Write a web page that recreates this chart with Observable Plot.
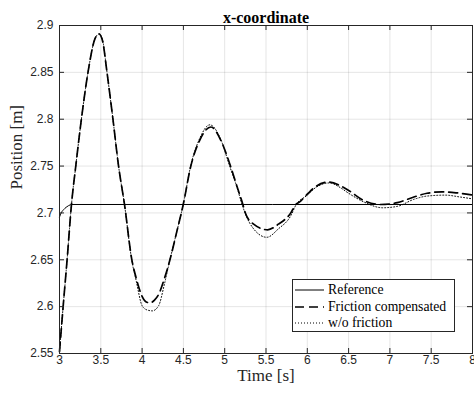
<!DOCTYPE html>
<html><head><meta charset="utf-8">
<script src="https://cdn.jsdelivr.net/npm/d3@7"></script>
<script src="https://cdn.jsdelivr.net/npm/@observablehq/plot@0.6"></script>
<style>
body{margin:0;background:#fff}
#wrap{position:relative;width:474px;height:398px}
#legend{position:absolute;left:292px;top:279px;width:161px;height:51px;border:1px solid #262626;background:#fff;font-family:"Liberation Serif","Times New Roman",serif;font-size:13.7px;color:#000}
.row{position:absolute;left:0;height:16px;display:flex;align-items:center;white-space:nowrap}
.row svg{margin-left:2px;margin-right:4px}
</style></head>
<body><div id="wrap"></div>
<script>
const titleText = "x-coordinate";
const xLabel = "Time [s]";
const yLabel = "Position [m]";
const seriesNames = ["Reference", "Friction compensated", "w/o friction"];
const xTicks = [3, 3.5, 4, 4.5, 5, 5.5, 6, 6.5, 7, 7.5, 8];
const yTicks = [2.55, 2.6, 2.65, 2.7, 2.75, 2.8, 2.85, 2.9];

const refT = [3.0, 3.02, 3.05, 3.08, 3.11, 3.15, 8.0];
const refV = [2.6956, 2.700, 2.7035, 2.706, 2.7078, 2.709, 2.709];

const compT = [3.0, 3.044, 3.092, 3.145, 3.197, 3.265, 3.345, 3.43, 3.478, 3.52, 3.575, 3.647, 3.715, 3.787, 3.876, 3.93, 4.0, 4.05, 4.096, 4.15, 4.2, 4.27, 4.337, 4.42, 4.498, 4.59, 4.70, 4.833, 4.95, 5.07, 5.15, 5.22, 5.25, 5.35, 5.52, 5.65, 5.80, 5.86, 5.904, 6.0, 6.1, 6.26, 6.40, 6.5, 6.69, 6.89, 7.09, 7.29, 7.45, 7.63, 7.80, 8.0];
const compV = [2.552, 2.600, 2.650, 2.709, 2.750, 2.800, 2.850, 2.886, 2.891, 2.884, 2.850, 2.800, 2.750, 2.709, 2.650, 2.630, 2.611, 2.605, 2.604, 2.607, 2.613, 2.630, 2.650, 2.680, 2.709, 2.750, 2.778, 2.7917, 2.778, 2.750, 2.728, 2.709, 2.700, 2.688, 2.682, 2.688, 2.700, 2.709, 2.7115, 2.720, 2.728, 2.733, 2.729, 2.724, 2.713, 2.709, 2.711, 2.717, 2.721, 2.7225, 2.7215, 2.719];

const wofT = [3.0, 3.044, 3.092, 3.145, 3.197, 3.265, 3.345, 3.43, 3.478, 3.52, 3.575, 3.647, 3.715, 3.787, 3.876, 3.93, 4.0, 4.06, 4.124, 4.2, 4.27, 4.337, 4.42, 4.498, 4.59, 4.70, 4.82, 4.95, 5.06, 5.15, 5.21, 5.25, 5.35, 5.51, 5.65, 5.80, 5.86, 6.0, 6.1, 6.27, 6.4, 6.5, 6.69, 6.91, 7.09, 7.29, 7.45, 7.67, 7.85, 8.0];
const wofV = [2.552, 2.600, 2.650, 2.709, 2.750, 2.800, 2.850, 2.886, 2.891, 2.885, 2.850, 2.800, 2.750, 2.709, 2.649, 2.627, 2.601, 2.5965, 2.5955, 2.601, 2.624, 2.650, 2.680, 2.709, 2.751, 2.780, 2.794, 2.779, 2.750, 2.727, 2.709, 2.699, 2.683, 2.674, 2.683, 2.697, 2.708, 2.719, 2.727, 2.732, 2.727, 2.721, 2.7115, 2.7055, 2.707, 2.7145, 2.718, 2.719, 2.717, 2.715];

const ref = refT.map((t, i) => ({t, v: refV[i]}));
const comp = compT.map((t, i) => ({t, v: compV[i]}));
const wof = wofT.map((t, i) => ({t, v: wofV[i]}));

const serif = "Liberation Serif, Times New Roman, serif";
const ink = "#262626";

const chart = Plot.plot({
  width: 474, height: 398,
  marginLeft: 59, marginRight: 2, marginTop: 25, marginBottom: 45,
  style: {fontFamily: "Liberation Sans, Arial, sans-serif", fontSize: "12px", color: ink, background: "#fff", overflow: "visible"},
  x: {domain: [3, 8]},
  y: {domain: [2.55, 2.9]},
  marks: [
    Plot.gridX(xTicks, {stroke: "#000", strokeOpacity: 0.1}),
    Plot.gridY(yTicks, {stroke: "#000", strokeOpacity: 0.1}),
    Plot.line(ref, {x: "t", y: "v", stroke: "#000", strokeWidth: 1, curve: "monotone-x"}),
    Plot.line(comp, {x: "t", y: "v", stroke: "#000", strokeWidth: 1.7, strokeDasharray: "9,5", curve: "monotone-x"}),
    Plot.line(wof, {x: "t", y: "v", stroke: "#000", strokeWidth: 1, strokeDasharray: "1,2", curve: "monotone-x"}),
    Plot.frame({stroke: ink, strokeWidth: 1}),
    Plot.tickX(xTicks, {x: d => d, insetTop: 323, stroke: ink}),
    Plot.tickX(xTicks, {x: d => d, insetBottom: 323, stroke: ink}),
    Plot.tickY(yTicks, {y: d => d, insetRight: 408, stroke: ink}),
    Plot.tickY(yTicks, {y: d => d, insetLeft: 408, stroke: ink}),
    Plot.axisX(xTicks, {tickSize: 0, tickPadding: 2, label: null, tickFormat: d => String(d), fill: ink}),
    Plot.axisY(yTicks, {tickSize: 0, tickPadding: 6, label: null, tickFormat: d => String(d), fill: ink}),
    Plot.text([titleText], {frameAnchor: "top", dy: -14, fontFamily: serif, fontWeight: "bold", fontSize: 16, fill: "#000"}),
    Plot.text([xLabel], {frameAnchor: "bottom", dy: 27, fontFamily: serif, fontSize: 17, fill: ink}),
    Plot.text([yLabel], {frameAnchor: "left", rotate: -90, dx: -43, fontFamily: serif, fontSize: 17, fill: ink})
  ]
});
const wrap = document.getElementById("wrap");
wrap.appendChild(chart);

const legend = document.createElement("div");
legend.id = "legend";
const dashes = [null, "9,5", "1,2"];
const widths = [1, 1.7, 1];
const tops = [2, 18.5, 34.7];
seriesNames.forEach((name, i) => {
  const row = document.createElement("div");
  row.className = "row";
  row.style.top = tops[i] + "px";
  row.innerHTML = `<svg width="29" height="6"><line x1="0" x2="29" y1="3" y2="3" stroke="#000" stroke-width="${widths[i]}" ${dashes[i] ? `stroke-dasharray="${dashes[i]}"` : ""}/></svg><span>${name}</span>`;
  legend.appendChild(row);
});
wrap.appendChild(legend);
</script>
</body></html>
